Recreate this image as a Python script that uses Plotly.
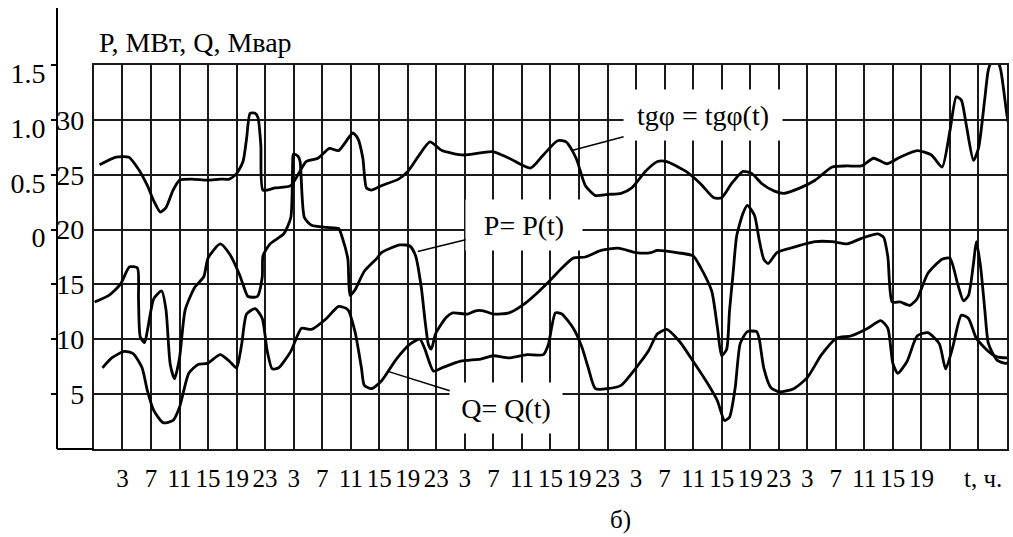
import plotly.graph_objects as go

# ---------------- data (hours from start, values) ----------------
tick_hours = [3 + 4 * k for k in range(31)]
tick_text = ["3", "7", "11", "15", "19", "23"] * 4 + ["3", "7", "11", "15", "19", "", ""]

left_tickvals = [5, 10, 15, 20, 25, 30]
left_ticktext = ["5", "10", "15", "20", "25", "30"]

tg_tickvals = [-1.5, -1.0, -0.5, 0.0, 0.5, 1.0, 1.5]
tg_ticktext = ["", "", "", "0", "0.5", "1.0", "1.5"]

tg_hours = [-0.2, 2.1, 3.9, 5.25, 6.5, 7.4, 8.3, 9.1, 10.1, 11.0, 12.7, 14.9, 16.7, 18.0, 19.0,
            19.9, 20.4, 20.9, 21.6, 22.0, 22.4, 22.7, 24.4, 26.6, 28.75, 30.4, 32.0, 33.3, 35.3,
            36.0, 36.7, 37.2, 37.9, 39.3, 41.7, 43.0, 44.4, 46.1, 47.8, 50.8, 54.9, 57.2, 60.2,
            62.0, 64.0, 65.2, 66.6, 67.9, 69.3, 71.0, 72.9, 74.4, 76.3, 78.0, 79.3, 82.0, 84.0,
            85.9, 87.0, 88.4, 90.0, 91.25, 92.6, 94.4, 95.7, 98.0, 100.1, 102.5, 104.6, 106.6,
            108.3, 110.2, 112.0, 114.4, 116.4, 117.9, 119.0, 119.9, 120.6, 121.3, 122.3, 123.0,
            123.9, 124.4, 125.3, 126.1, 127.0, 127.7]
tg_values = [0.59, 0.66, 0.66, 0.55, 0.40, 0.26, 0.16, 0.20, 0.36, 0.45, 0.46, 0.45, 0.46, 0.46,
             0.51, 0.62, 0.83, 1.06, 1.06, 1.02, 0.77, 0.36, 0.38, 0.40, 0.62, 0.65, 0.74, 0.72,
             0.88, 0.83, 0.65, 0.38, 0.36, 0.40, 0.46, 0.53, 0.66, 0.80, 0.72, 0.68, 0.71, 0.65,
             0.56, 0.68, 0.81, 0.80, 0.65, 0.40, 0.31, 0.32, 0.33, 0.38, 0.53, 0.62, 0.62, 0.53,
             0.42, 0.29, 0.29, 0.42, 0.53, 0.51, 0.42, 0.35, 0.33, 0.38, 0.45, 0.57, 0.58, 0.58,
             0.65, 0.60, 0.66, 0.72, 0.68, 0.57, 0.90, 1.21, 1.18, 0.95, 0.63, 0.74, 1.20, 1.46,
             1.60, 1.46, 1.04, 0.80]

p_hours = [-0.9, 1.1, 2.7, 4.0, 5.1, 5.25, 5.5, 6.1, 6.5, 7.4,
           8.5, 9.1, 9.7, 10.3, 11.0, 11.8, 13.1, 14.4, 15.0, 16.7,
           18.0, 19.4, 19.9, 20.6, 21.9, 22.6, 22.7, 23.7, 25.6, 26.6,
           26.9, 27.0, 27.6, 27.9, 28.5, 29.5, 31.6, 33.3, 33.8, 34.6,
           34.9, 35.6, 36.9, 38.7, 39.3, 41.9, 43.3, 44.1, 44.9, 45.4,
           45.9, 46.3, 46.9, 48.4, 49.3, 51.4, 52.5, 53.6, 55.0, 57.2,
           59.3, 61.1, 63.0, 64.6, 66.2, 67.9, 70.1, 72.5, 75.0, 77.1,
           78.0, 80.7, 83.0, 84.0, 85.6, 86.4, 87.0, 87.7, 88.1, 88.6,
           89.1, 90.0, 90.6, 91.6, 92.25, 92.9, 93.5, 94.75, 96.6, 100.1,
           102.5, 104.6, 106.6, 108.9, 109.7, 110.3, 110.9, 112.0, 113.4, 114.4,
           115.9, 117.9, 119.0, 120.1, 120.9, 121.6, 122.3, 122.7, 123.3, 123.9,
           124.4, 125.6, 126.9, 127.7]
p_values = [13.4, 14.0, 15.0, 16.6, 16.5, 13.7, 10.2, 9.7, 10.8, 13.7,
            14.4, 12.7, 7.7, 6.4, 8.3, 12.7, 14.7, 15.7, 17.4, 18.7,
            17.8, 15.9, 15.0, 13.9, 13.9, 15.7, 17.6, 18.7, 19.6, 21.1,
            26.7, 26.9, 26.7, 26.2, 21.1, 20.4, 20.2, 20.1, 19.3, 17.3,
            14.0, 14.5, 16.2, 17.4, 17.9, 18.6, 18.5, 17.6, 14.7, 11.8,
            9.5, 9.1, 10.5, 12.0, 12.4, 12.3, 12.6, 12.6, 12.3, 12.4,
            13.2, 14.2, 15.4, 16.5, 17.4, 17.5, 18.1, 18.3, 17.9, 17.9,
            18.1, 17.9, 17.6, 16.6, 14.4, 11.1, 8.5, 9.1, 12.6, 16.0,
            19.4, 21.5, 22.2, 21.3, 19.1, 17.3, 16.9, 17.9, 18.3, 18.9,
            18.9, 18.7, 19.2, 19.6, 19.3, 17.5, 13.4, 13.4, 13.1, 13.7,
            16.0, 17.3, 17.4, 15.0, 13.5, 14.0, 16.9, 18.9, 16.6, 12.6,
            9.6, 8.1, 7.8, 8.3]

q_hours = [0.2, 1.5, 3.25, 4.5, 5.75, 6.5, 7.4, 8.7, 10.1, 11.0,
           12.3, 13.6, 14.9, 16.7, 18.0, 19.0, 19.7, 20.4, 21.6, 22.6,
           23.3, 24.0, 24.9, 26.6, 28.1, 29.5, 31.6, 33.3, 34.6, 35.6,
           36.5, 36.9, 37.9, 39.3, 41.4, 43.4, 44.7, 45.4, 46.6, 47.8,
           50.4, 53.2, 55.0, 57.2, 59.7, 62.0, 62.7, 63.7, 64.6, 66.2,
           67.4, 68.3, 69.3, 71.0, 72.9, 75.0, 76.7, 78.0, 79.3, 81.1,
           83.0, 85.1, 86.4, 87.4, 88.1, 88.9, 89.6, 90.6, 91.9, 92.25,
           92.9, 93.9, 95.1, 97.1, 99.0, 101.0, 103.1, 105.1, 107.5, 109.3,
           110.3, 111.0, 111.7, 113.0, 114.4, 115.9, 117.5, 118.4, 119.4, 120.6,
           121.6, 122.7, 124.4, 125.6, 127.3]
q_values = [7.4, 8.3, 8.9, 8.7, 7.4, 5.3, 3.5, 2.4, 2.6, 3.8,
            6.9, 7.7, 7.8, 8.6, 8.0, 7.4, 9.5, 12.3, 12.8, 11.9,
            8.9, 7.3, 7.4, 8.9, 11.0, 10.9, 11.9, 13.0, 12.7, 10.7,
            7.4, 5.8, 5.5, 6.2, 8.2, 9.6, 10.0, 9.1, 7.1, 7.4,
            8.0, 8.2, 8.5, 8.3, 8.6, 8.6, 9.5, 12.4, 12.3, 11.0,
            9.3, 7.4, 5.5, 5.5, 5.8, 7.4, 8.9, 10.5, 10.9, 9.8,
            8.0, 5.9, 4.4, 2.6, 2.9, 5.6, 9.6, 10.7, 10.7, 10.1,
            7.4, 5.6, 5.2, 5.5, 6.5, 8.6, 10.1, 10.3, 11.0, 11.7,
            11.0, 7.8, 6.9, 8.0, 10.3, 10.6, 9.6, 7.3, 9.3, 12.2,
            11.9, 10.1, 8.9, 8.4, 8.3]

# ---------------- figure ----------------
FONT = "Liberation Serif, Times New Roman, serif"
line_style = dict(color="black", width=2.8, shape="spline", smoothing=0.6)

fig = go.Figure()
fig.add_trace(go.Scatter(x=tg_hours, y=tg_values, mode="lines", line=line_style,
                         yaxis="y2", name="tgφ", hoverinfo="skip"))
fig.add_trace(go.Scatter(x=p_hours, y=p_values, mode="lines", line=line_style,
                         name="P", hoverinfo="skip"))
fig.add_trace(go.Scatter(x=q_hours, y=q_values, mode="lines", line=line_style,
                         name="Q", hoverinfo="skip"))

x_dom0 = 37 / 952

fig.update_layout(
    width=1013, height=537,
    margin=dict(l=57, r=4, t=65, b=88),
    paper_bgcolor="white", plot_bgcolor="white",
    showlegend=False,
    font=dict(family=FONT, color="black", size=24),
    xaxis=dict(
        domain=[x_dom0, 1], range=[-1, 127],
        tickmode="array", tickvals=tick_hours, ticktext=tick_text,
        tickangle=0, ticks="", ticklabelstandoff=6,
        tickfont=dict(family=FONT, size=25, color="black"),
        showgrid=True, gridcolor="#1a1a1a", gridwidth=2,
        showline=True, linecolor="#1a1a1a", linewidth=2, mirror=True,
        zeroline=False,
    ),
    yaxis=dict(
        range=[0, 35], tickmode="array", tickvals=left_tickvals, ticktext=left_ticktext,
        ticks="", tickfont=dict(family=FONT, size=28, color="black"),
        showgrid=True, gridcolor="#1a1a1a", gridwidth=2,
        showline=True, linecolor="#1a1a1a", linewidth=2, mirror=True,
        zeroline=False, ticklabelstandoff=2,
    ),
    yaxis2=dict(
        range=[-2, 1.5], overlaying="y", side="left", anchor="free", position=0,
        tickmode="array", tickvals=tg_tickvals, ticktext=tg_ticktext,
        ticks="outside", ticklen=6, tickwidth=2, tickcolor="black",
        tickfont=dict(family=FONT, size=28, color="black"),
        showgrid=False, zeroline=False, showline=False, ticklabelshift=8,
    ),
)

# outer axis line (extends above the grid) and its foot
fig.add_shape(type="line", xref="paper", yref="paper", x0=0, x1=0, y0=0, y1=441 / 384,
              line=dict(color="black", width=2))
fig.add_shape(type="line", xref="paper", yref="paper", x0=0, x1=x_dom0, y0=0, y1=0,
              line=dict(color="black", width=2))

# titles
fig.add_annotation(text="P, МВт, Q, Мвар", xref="paper", yref="paper", x=40 / 952, y=406 / 384,
                   xanchor="left", yanchor="middle", showarrow=False,
                   font=dict(family=FONT, size=28, color="black"))
fig.add_annotation(text="t, ч.", xref="paper", yref="paper", x=928 / 952, y=-29 / 384,
                   xanchor="center", yanchor="middle", showarrow=False,
                   font=dict(family=FONT, size=25, color="black"))
fig.add_annotation(text="б)", xref="paper", yref="paper", x=565 / 952, y=-71 / 384,
                   xanchor="center", yanchor="middle", showarrow=False,
                   font=dict(family=FONT, size=25, color="black"))

# curve labels with leader lines
labels = [
    ("tgφ = tgφ(t)", 66.0, 27.2, 84.4, 30.4, 142),
    ("P= P(t)", 44.4, 18.0, 59.3, 20.4, 100),
    ("Q= Q(t)", 40.1, 7.1, 56.8, 3.7, 96),
]
for txt, px, py, tx, ty, w in labels:
    fig.add_annotation(text=txt, x=px, y=py, xref="x", yref="y",
                       ax=tx, ay=ty, axref="x", ayref="y",
                       showarrow=True, arrowhead=0, arrowwidth=1.5, arrowcolor="black",
                       bgcolor="white", borderpad=8, width=w, height=34,
                       font=dict(family=FONT, size=28, color="black"))

fig.write_html("out.html")
